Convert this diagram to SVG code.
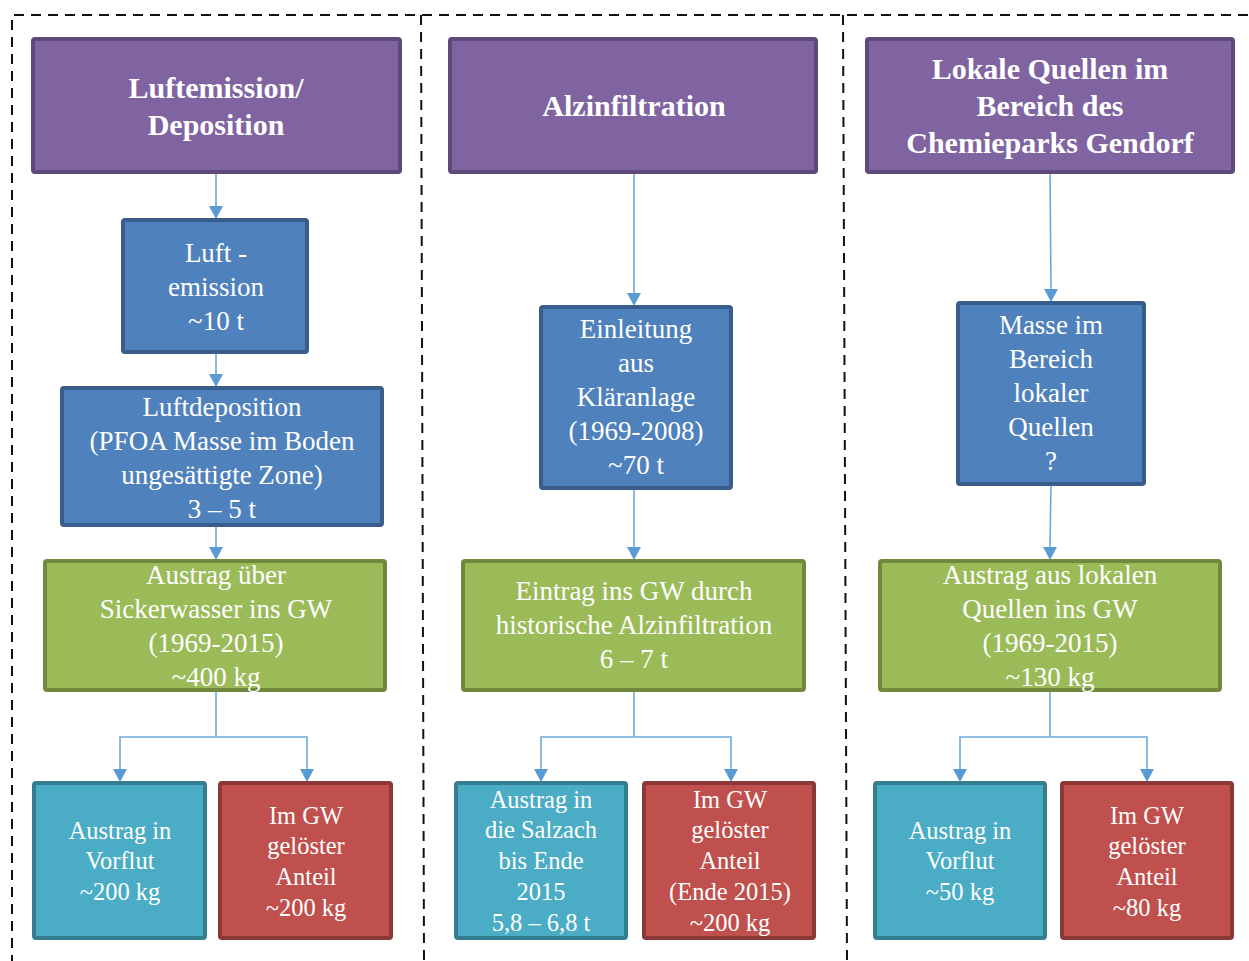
<svg xmlns="http://www.w3.org/2000/svg" width="1249" height="961" viewBox="0 0 1249 961">
<style>
.frame{fill:none;stroke:#111;stroke-width:2;stroke-dasharray:10 7}
.box{stroke-width:4}
.p{fill:#8064a2;stroke:#5f497a}
.b{fill:#4f81bd;stroke:#385d8a}
.g{fill:#9bbb59;stroke:#71893f}
.t{fill:#4bacc6;stroke:#357d91}
.r{fill:#c0504d;stroke:#8c3836}
text{font-family:"Liberation Serif","DejaVu Serif",serif;fill:#fff;text-anchor:middle}
.h{font-size:30px;font-weight:bold}
.m{font-size:27px}
.s{font-size:24.5px}
.c{fill:none;stroke:#6fa8dc;stroke-width:1.6}
.a{fill:#5b9bd5}
</style>
<g id="frame">
<path class="frame" d="M1248,15 H12 V961"/>
<path class="frame" d="M421,15 L424,961"/>
<path class="frame" d="M843,15 L847,961"/>
</g>
<g id="connectors">
<path class="c" d="M216,172 V206"/>
<path class="a" d="M209,206 L223,206 L216,219 Z"/>
<path class="c" d="M216,353 V374"/>
<path class="a" d="M209,374 L223,374 L216,387 Z"/>
<path class="c" d="M216,526 V547"/>
<path class="a" d="M209,547 L223,547 L216,560 Z"/>
<path class="c" d="M216,691 V737 M120,769 V737 H307 V769"/>
<path class="a" d="M113,769 L127,769 L120,782 Z M300,769 L314,769 L307,782 Z"/>
<path class="c" d="M634,172 V293"/>
<path class="a" d="M627,293 L641,293 L634,306 Z"/>
<path class="c" d="M634,489 V547"/>
<path class="a" d="M627,547 L641,547 L634,560 Z"/>
<path class="c" d="M634,691 V737 M541,769 V737 H731 V769"/>
<path class="a" d="M534,769 L548,769 L541,782 Z M724,769 L738,769 L731,782 Z"/>
<path class="c" d="M1050,172 L1051,289"/>
<path class="a" d="M1044,289 L1058,289 L1051,302 Z"/>
<path class="c" d="M1051,485 L1050,547"/>
<path class="a" d="M1043,547 L1057,547 L1050,560 Z"/>
<path class="c" d="M1050,691 V737 M960,769 V737 H1147 V769"/>
<path class="a" d="M953,769 L967,769 L960,782 Z M1140,769 L1154,769 L1147,782 Z"/>
</g>
<g id="n-luft-dep">
<rect class="box p" x="33" y="39" width="367" height="133" rx="2"/>
<text class="h" x="216" y="98">Luftemission/</text>
<text class="h" x="216" y="135">Deposition</text>
</g>
<g id="n-alz">
<rect class="box p" x="450" y="39" width="366" height="133" rx="2"/>
<text class="h" x="634" y="116">Alzinfiltration</text>
</g>
<g id="n-lokal">
<rect class="box p" x="867" y="39" width="366" height="133" rx="2"/>
<text class="h" x="1050" y="79">Lokale Quellen im</text>
<text class="h" x="1050" y="116">Bereich des</text>
<text class="h" x="1050" y="153">Chemieparks Gendorf</text>
</g>
<g id="n-luftemission">
<rect class="box b" x="123" y="220" width="184" height="132" rx="2"/>
<text class="m" x="216" y="262">Luft -</text>
<text class="m" x="216" y="296">emission</text>
<text class="m" x="216" y="330">~10 t</text>
</g>
<g id="n-luftdeposition">
<rect class="box b" x="62" y="388" width="320" height="137" rx="2"/>
<text class="m" x="222" y="416">Luftdeposition</text>
<text class="m" x="222" y="450">(PFOA Masse im Boden</text>
<text class="m" x="222" y="484">ungesättigte Zone)</text>
<text class="m" x="222" y="518">3 – 5 t</text>
</g>
<g id="n-austrag-sicker">
<rect class="box g" x="45" y="561" width="340" height="129" rx="2"/>
<text class="m" x="216" y="584">Austrag über</text>
<text class="m" x="216" y="618">Sickerwasser ins GW</text>
<text class="m" x="216" y="652">(1969-2015)</text>
<text class="m" x="216" y="686">~400 kg</text>
</g>
<g id="n-vorflut1">
<rect class="box t" x="34" y="783" width="171" height="155" rx="2"/>
<text class="s" x="120" y="839">Austrag in</text>
<text class="s" x="120" y="869">Vorflut</text>
<text class="s" x="120" y="900">~200 kg</text>
</g>
<g id="n-gw1">
<rect class="box r" x="220" y="783" width="171" height="155" rx="2"/>
<text class="s" x="306" y="824">Im GW</text>
<text class="s" x="306" y="854">gelöster</text>
<text class="s" x="306" y="885">Anteil</text>
<text class="s" x="306" y="916">~200 kg</text>
</g>
<g id="n-einleitung">
<rect class="box b" x="541" y="307" width="190" height="181" rx="2"/>
<text class="m" x="636" y="338">Einleitung</text>
<text class="m" x="636" y="372">aus</text>
<text class="m" x="636" y="406">Kläranlage</text>
<text class="m" x="636" y="440">(1969-2008)</text>
<text class="m" x="636" y="474">~70 t</text>
</g>
<g id="n-eintrag">
<rect class="box g" x="463" y="561" width="341" height="129" rx="2"/>
<text class="m" x="634" y="600">Eintrag ins GW durch</text>
<text class="m" x="634" y="634">historische Alzinfiltration</text>
<text class="m" x="634" y="668">6 – 7 t</text>
</g>
<g id="n-salzach">
<rect class="box t" x="456" y="783" width="170" height="155" rx="2"/>
<text class="s" x="541" y="808">Austrag in</text>
<text class="s" x="541" y="838">die Salzach</text>
<text class="s" x="541" y="869">bis Ende</text>
<text class="s" x="541" y="900">2015</text>
<text class="s" x="541" y="931">5,8 – 6,8 t</text>
</g>
<g id="n-gw2">
<rect class="box r" x="644" y="783" width="170" height="155" rx="2"/>
<text class="s" x="730" y="808">Im GW</text>
<text class="s" x="730" y="838">gelöster</text>
<text class="s" x="730" y="869">Anteil</text>
<text class="s" x="730" y="900">(Ende 2015)</text>
<text class="s" x="730" y="931">~200 kg</text>
</g>
<g id="n-masse">
<rect class="box b" x="958" y="303" width="186" height="181" rx="2"/>
<text class="m" x="1051" y="334">Masse im</text>
<text class="m" x="1051" y="368">Bereich</text>
<text class="m" x="1051" y="402">lokaler</text>
<text class="m" x="1051" y="436">Quellen</text>
<text class="m" x="1051" y="470">?</text>
</g>
<g id="n-austrag-lokal">
<rect class="box g" x="880" y="561" width="340" height="129" rx="2"/>
<text class="m" x="1050" y="584">Austrag aus lokalen</text>
<text class="m" x="1050" y="618">Quellen ins GW</text>
<text class="m" x="1050" y="652">(1969-2015)</text>
<text class="m" x="1050" y="686">~130 kg</text>
</g>
<g id="n-vorflut3">
<rect class="box t" x="875" y="783" width="170" height="155" rx="2"/>
<text class="s" x="960" y="839">Austrag in</text>
<text class="s" x="960" y="869">Vorflut</text>
<text class="s" x="960" y="900">~50 kg</text>
</g>
<g id="n-gw3">
<rect class="box r" x="1062" y="783" width="170" height="155" rx="2"/>
<text class="s" x="1147" y="824">Im GW</text>
<text class="s" x="1147" y="854">gelöster</text>
<text class="s" x="1147" y="885">Anteil</text>
<text class="s" x="1147" y="916">~80 kg</text>
</g>
</svg>
